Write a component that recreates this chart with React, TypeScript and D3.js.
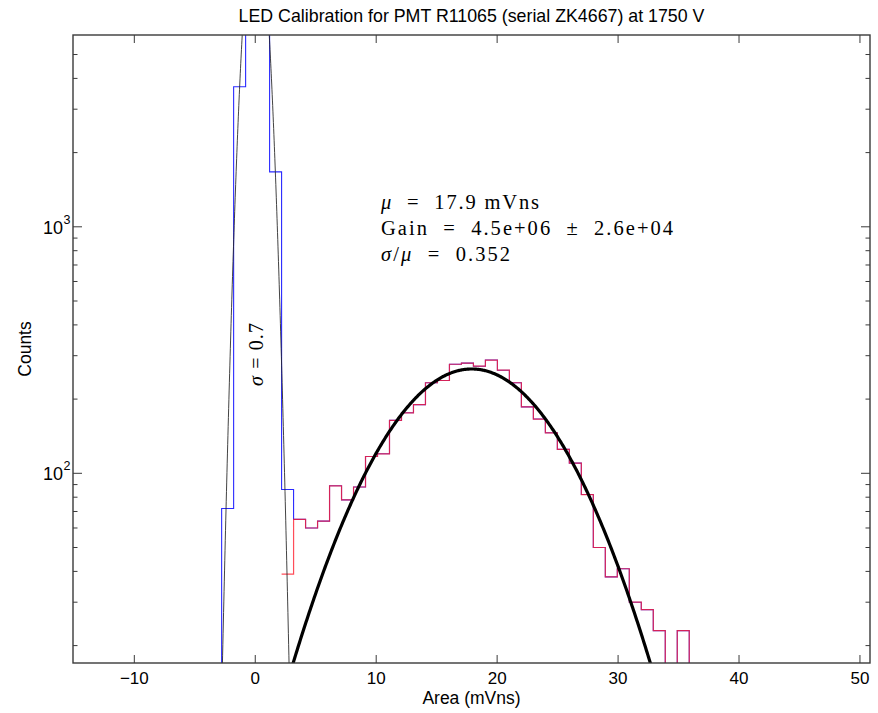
import React from 'react';
import * as d3 from 'd3';

// ---------- data ----------
const titleText = 'LED Calibration for PMT R11065 (serial ZK4667) at 1750 V';
const xLabel = 'Area (mVns)';
const yLabel = 'Counts';

const xDomain: [number, number] = [-15.07, 50.83];
const yDomain: [number, number] = [17, 6000];
const xTicks = [-10, 0, 10, 20, 30, 40, 50];
const yMajorTicks = [100, 1000];
const yMajorExponents = ['2', '3'];
const yMinorTicks = [20, 30, 40, 50, 60, 70, 80, 90, 200, 300, 400, 500, 600, 700, 800, 900, 2000, 3000, 4000, 5000];

// histogram binning
const binStart = -2.78;
const binWidth = 0.9914;
// total counts (blue), bins 0..38
const totalCounts = [
  72, 3700, 16700, 13300, 1670, 86, 65, 60, 64, 89,
  78, 88, 117, 120, 164, 176, 190, 233, 238, 277,
  280, 272, 288, 262, 233, 186, 166, 146, 125, 110,
  82, 50, 38, 41, 30, 28, 23, 0, 23,
];
// signal counts (red), starting at bin 5
const signalFirstBin = 5;
const signalCounts = [
  39, 65, 60, 64, 89,
  78, 88, 117, 120, 164, 176, 190, 233, 238, 277,
  280, 272, 288, 262, 233, 186, 166, 146, 125, 110,
  82, 50, 38, 41, 30, 28, 23, 0, 23,
];

// fitted gaussians
const pedestalFit = { amplitude: 19040, mean: 0.04, sigma: 0.735, from: -4, to: 4 };
const signalFit = { amplitude: 265, mean: 17.9, sigma: 6.3, from: -2, to: 38 };

const muText = '17.9 mVns';
const gainText = '4.5e+06';
const gainErrText = '2.6e+04';
const ratioText = '0.352';
const pedestalSigmaLabel = '0.7';

// ---------- layout ----------
const W = 878;
const H = 713;
const plot = { left: 73, top: 35, right: 870, bottom: 663 };

export default function App() {
  const x = d3.scaleLinear().domain(xDomain).range([plot.left, plot.right]);
  const y = d3.scaleLog().domain(yDomain).range([plot.bottom, plot.top]);
  const yPos = (c: number) => (c > 0 ? y(c) : plot.bottom + 30);

  const edge = (i: number) => binStart + i * binWidth;

  const stepLine = d3
    .line<[number, number]>()
    .x((d) => x(d[0]))
    .y((d) => yPos(d[1]))
    .curve(d3.curveStepAfter);

  const bluePts: [number, number][] = [[edge(0), 0]];
  totalCounts.forEach((c, i) => bluePts.push([edge(i), c]));
  bluePts.push([edge(totalCounts.length), 0]);

  const redPts: [number, number][] = [];
  signalCounts.forEach((c, i) => redPts.push([edge(signalFirstBin + i), c]));
  redPts.push([edge(signalFirstBin + signalCounts.length), 0]);

  const gauss = (f: typeof signalFit, v: number) =>
    f.amplitude * Math.exp(-((v - f.mean) ** 2) / (2 * f.sigma * f.sigma));
  const sample = (f: typeof signalFit, n: number) =>
    d3.range(n + 1).map((k) => f.from + ((f.to - f.from) * k) / n);
  const pedLine = d3
    .line<number>()
    .x((v) => x(v))
    .y((v) => y(Math.max(gauss(pedestalFit, v), 1)))(sample(pedestalFit, 400));
  const sigLine = d3
    .line<number>()
    .x((v) => x(v))
    .y((v) => y(Math.max(gauss(signalFit, v), 1)))(sample(signalFit, 600));

  const sans = 'Liberation Sans, Arial, Helvetica, sans-serif';
  const serif = 'Liberation Serif, Times New Roman, serif';
  const axisColor = '#3a3a3a';
  const sp = '\u00A0';

  return (
    <svg width={W} height={H} style={{ position: 'absolute', left: 0, top: 0, background: '#fff' }}>
      <defs>
        <clipPath id="plotClip">
          <rect x={plot.left} y={plot.top} width={plot.right - plot.left} height={plot.bottom - plot.top} />
        </clipPath>
      </defs>
      <rect x={0} y={0} width={W} height={H} fill="#fff" />

      {/* histograms and fits */}
      <g clipPath="url(#plotClip)" fill="none">
        <path d={stepLine(bluePts) || ''} stroke="#2a2aff" strokeWidth={1.1} />
        <path d={stepLine(redPts) || ''} stroke="#ff2030" strokeWidth={1.2} strokeOpacity={0.8} />
        <path d={pedLine || ''} stroke="#222" strokeWidth={1} strokeOpacity={0.85} />
        <path d={sigLine || ''} stroke="#000" strokeWidth={3.2} />
      </g>

      {/* frame */}
      <rect
        x={plot.left}
        y={plot.top}
        width={plot.right - plot.left}
        height={plot.bottom - plot.top}
        fill="none"
        stroke={axisColor}
        strokeWidth={1.4}
      />

      {/* x ticks */}
      {xTicks.map((t) => (
        <g key={'xt' + t}>
          <line x1={x(t)} x2={x(t)} y1={plot.bottom} y2={plot.bottom - 8} stroke={axisColor} strokeWidth={1} />
          <line x1={x(t)} x2={x(t)} y1={plot.top} y2={plot.top + 8} stroke={axisColor} strokeWidth={1} />
          <text x={x(t)} y={684} textAnchor="middle" fontFamily={sans} fontSize={17} fill="#000">
            {t < 0 ? '\u2212' + Math.abs(t) : String(t)}
          </text>
        </g>
      ))}

      {/* y ticks */}
      {yMajorTicks.map((t, i) => (
        <g key={'yt' + t}>
          <line x1={plot.left} x2={plot.left + 9} y1={y(t)} y2={y(t)} stroke={axisColor} strokeWidth={1} />
          <line x1={plot.right} x2={plot.right - 9} y1={y(t)} y2={y(t)} stroke={axisColor} strokeWidth={1} />
          <text x={63} y={y(t) + 7} textAnchor="end" fontFamily={sans} fontSize={18} fill="#000">
            10
          </text>
          <text x={63.5} y={y(t) - 3} textAnchor="start" fontFamily={sans} fontSize={12.5} fill="#000">
            {yMajorExponents[i]}
          </text>
        </g>
      ))}
      {yMinorTicks.map((t) => (
        <g key={'ym' + t}>
          <line x1={plot.left} x2={plot.left + 4.5} y1={y(t)} y2={y(t)} stroke={axisColor} strokeWidth={1} />
          <line x1={plot.right} x2={plot.right - 4.5} y1={y(t)} y2={y(t)} stroke={axisColor} strokeWidth={1} />
        </g>
      ))}

      {/* title and axis labels */}
      <text x={(plot.left + plot.right) / 2} y={22} textAnchor="middle" fontFamily={sans} fontSize={17.8} fill="#000">
        {titleText}
      </text>
      <text x={(plot.left + plot.right) / 2} y={704} textAnchor="middle" fontFamily={sans} fontSize={17.5} fill="#000">
        {xLabel}
      </text>
      <text
        transform={`translate(31, ${(plot.top + plot.bottom) / 2}) rotate(-90)`}
        textAnchor="middle"
        fontFamily={sans}
        fontSize={17.5}
        fill="#000"
      >
        {yLabel}
      </text>

      {/* fit annotation */}
      <g fontFamily={serif} fontSize={20.5} fill="#000">
        <text x={381} y={209} textLength={158} lengthAdjust="spacing">
          <tspan fontStyle="italic">μ</tspan>
          {sp + sp + '=' + sp + sp + muText}
        </text>
        <text x={381} y={235} textLength={292} lengthAdjust="spacing">
          {'Gain' + sp + sp + '=' + sp + sp + gainText + sp + sp + '\u00B1' + sp + sp + gainErrText}
        </text>
        <text x={381} y={261} textLength={129} lengthAdjust="spacing">
          <tspan fontStyle="italic">σ</tspan>
          {'/'}
          <tspan fontStyle="italic">μ</tspan>
          {sp + sp + '=' + sp + sp + ratioText}
        </text>
      </g>

      {/* pedestal sigma label */}
      <text
        transform="translate(263, 386) rotate(-90)"
        fontFamily={serif}
        fontSize={20}
        fill="#000"
        textLength={63}
        lengthAdjust="spacing"
      >
        <tspan fontStyle="italic">σ</tspan>
        {sp + '=' + sp + pedestalSigmaLabel}
      </text>
    </svg>
  );
}
